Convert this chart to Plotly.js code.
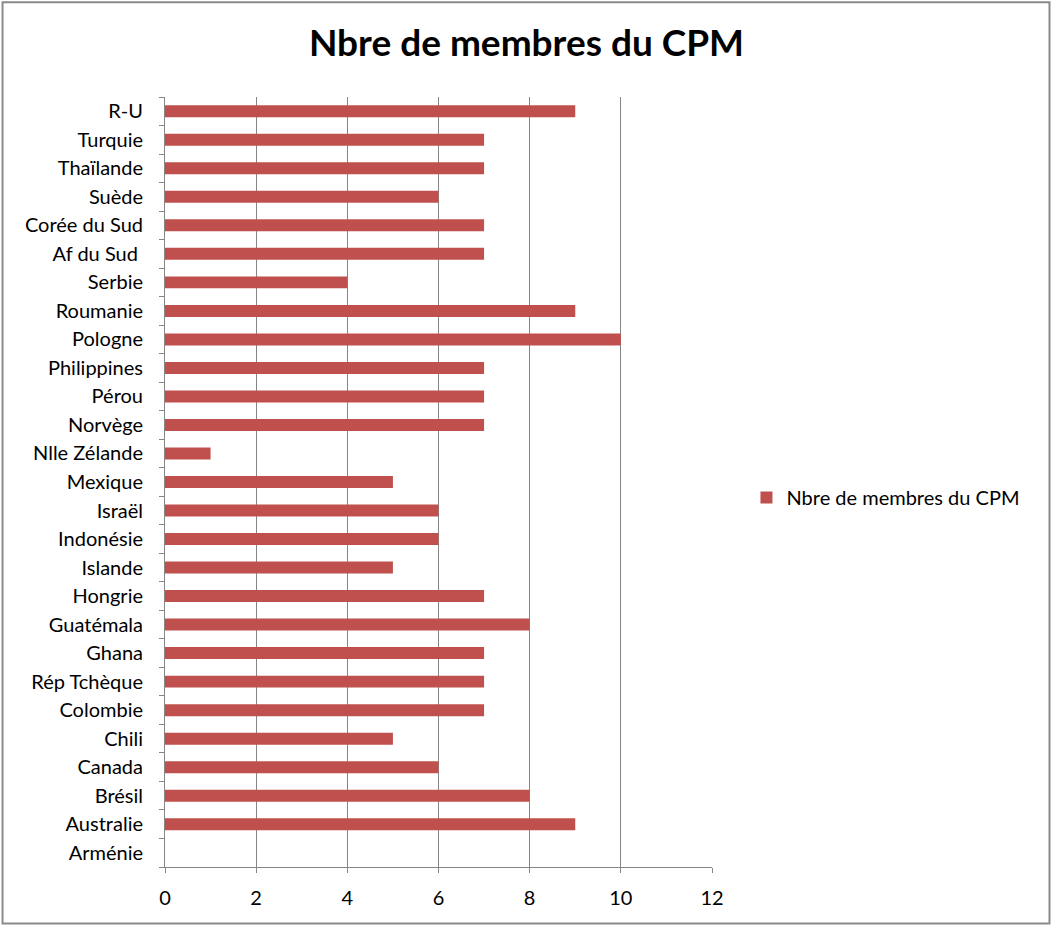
<!DOCTYPE html>
<html><head><meta charset="utf-8">
<script src="https://cdn.plot.ly/plotly-3.0.1.min.js"></script>
<style>html,body{margin:0;padding:0;background:#fff}#chart{width:1053px;height:926px}</style>
</head><body><div id="chart"></div>
<script>
const categories = ["Arménie","Australie","Brésil","Canada","Chili","Colombie","Rép Tchèque","Ghana","Guatémala","Hongrie","Islande","Indonésie","Israël","Mexique","Nlle Zélande","Norvège","Pérou","Philippines","Pologne","Roumanie","Serbie","Af du Sud\u00a0","Corée du Sud","Suède","Thaïlande","Turquie","R-U"];
const values = [null,9,8,6,5,7,7,7,8,7,5,6,6,5,1,7,7,7,10,9,4,7,7,6,7,7,9];
const xTicks = [0,2,4,6,8,10,12];
const seriesName = "Nbre de membres du CPM";
const titleText = "Nbre de membres du CPM";

const font = "Lato, 'Open Sans', sans-serif";
const data = [{
  type: "bar", orientation: "h", y: categories, x: values, name: seriesName,
  marker: {color: "#C0504D"}, width: 0.42, showlegend: true
}];
const layout = {
  width: 1053, height: 926,
  margin: {l: 165, r: 341, t: 97, b: 59},
  paper_bgcolor: "#fff", plot_bgcolor: "#fff",
  font: {family: font, size: 20, color: "#000"},
  title: {text: titleText, font: {family: font, size: 37, color: "#000", weight: "bold"}, x: 0.5, xref: "container", y: 0.953, yanchor: "middle", xanchor: "center"},
  xaxis: {range: [0, 12], tickvals: xTicks, showgrid: true, gridcolor: "#868686", gridwidth: 1,
    showline: true, linecolor: "#868686", ticks: "outside", ticklen: 5, tickcolor: "#868686",
    ticklabelstandoff: 8, zeroline: false, fixedrange: true},
  yaxis: {type: "category", categoryorder: "array", categoryarray: categories, showgrid: false,
    showline: true, linecolor: "#868686", ticks: "outside", ticklen: 5, tickcolor: "#868686",
    tickson: "boundaries", ticklabelstandoff: 17, zeroline: false},
  legend: {x: 1.063, y: 0.48, xanchor: "left", yanchor: "middle", font: {size: 20}, bgcolor: "rgba(0,0,0,0)"},
  shapes: [{type: "rect", xref: "paper", yref: "paper", x0: -0.297, x1: 1.617, y0: -0.0735, y1: 1.123,
    line: {color: "#8a8a8a", width: 2}, fillcolor: "rgba(0,0,0,0)", layer: "below"}],
  bargap: 0.58
};
Plotly.newPlot("chart", data, layout, {displayModeBar: false, staticPlot: true});
</script></body></html>
